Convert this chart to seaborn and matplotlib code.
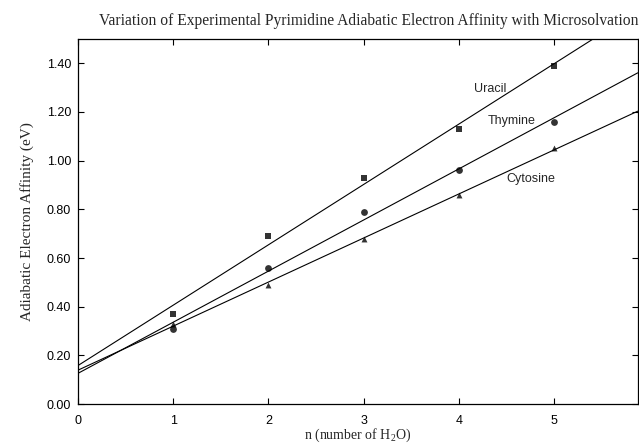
import matplotlib
matplotlib.use("Agg")
import matplotlib.pyplot as plt
import seaborn as sns
import pandas as pd

n_water = [1, 2, 3, 4, 5]
uracil = [0.37, 0.69, 0.93, 1.13, 1.39]
thymine = [0.31, 0.56, 0.79, 0.96, 1.16]
cytosine = [0.33, 0.49, 0.68, 0.86, 1.05]
series_names = ["Uracil", "Thymine", "Cytosine"]
x_ticks = [0, 1, 2, 3, 4, 5]
y_ticks = [0.0, 0.2, 0.4, 0.6, 0.8, 1.0, 1.2, 1.4]

sns.set_style("ticks")
plt.rcParams["font.family"] = ["Liberation Sans", "DejaVu Sans"]
plt.rcParams["mathtext.fontset"] = "custom"
plt.rcParams["mathtext.rm"] = "Liberation Serif"

df = pd.DataFrame({
    "n": n_water * 3,
    "ea": uracil + thymine + cytosine,
    "base": [series_names[0]] * 5 + [series_names[1]] * 5 + [series_names[2]] * 5,
})

fig = plt.figure(figsize=(6.39, 4.43), dpi=100)
ax = fig.add_axes([0.122, 0.088, 0.876, 0.824])
ax.set_xlim(0, 5.88)
ax.set_ylim(0, 1.5)

markers = {"Uracil": ("s", 24), "Thymine": ("o", 24), "Cytosine": ("^", 18)}
for name in series_names:
    sub = df[df["base"] == name]
    m, s = markers[name]
    sns.regplot(data=sub, x="n", y="ea", ax=ax, ci=None, truncate=False,
                color="black", marker=m,
                scatter_kws={"s": s, "linewidths": 0, "zorder": 3},
                line_kws={"lw": 0.8, "color": "black"})

ax.set_xlim(0, 5.88)
ax.set_ylim(0, 1.5)

label_pos = {"Uracil": (4.33, 1.295), "Thymine": (4.56, 1.164), "Cytosine": (4.76, 0.926)}
for name in series_names:
    x, y = label_pos[name]
    ax.text(x, y, name, ha="center", va="center", fontsize=9,
            family=["Liberation Sans", "DejaVu Sans"])

ax.set_xticks(x_ticks)
ax.set_xticklabels([str(v) for v in x_ticks])
ax.set_yticks(y_ticks)
ax.set_yticklabels([f"{v:.2f}" for v in y_ticks])
ax.tick_params(direction="in", length=4, width=0.8, top=True, right=True,
               labelsize=9, colors="black", pad=5)
ax.tick_params(axis="x", pad=8)
for sp in ax.spines.values():
    sp.set_visible(True)
    sp.set_linewidth(0.9)
    sp.set_color("black")

ax.set_xlabel(r"n (number of H$_\mathregular{2}$O)", family="Liberation Serif",
              fontsize=10, labelpad=0)
ax.set_ylabel("Adiabatic Electron Affinity (eV)", family="Liberation Serif",
              fontsize=11, labelpad=9)
fig.text(0.577, 0.952, "Variation of Experimental Pyrimidine Adiabatic Electron Affinity with Microsolvation",
         ha="center", va="center", family="Liberation Serif", fontsize=11.2)

fig.savefig("out.png", dpi=100)
